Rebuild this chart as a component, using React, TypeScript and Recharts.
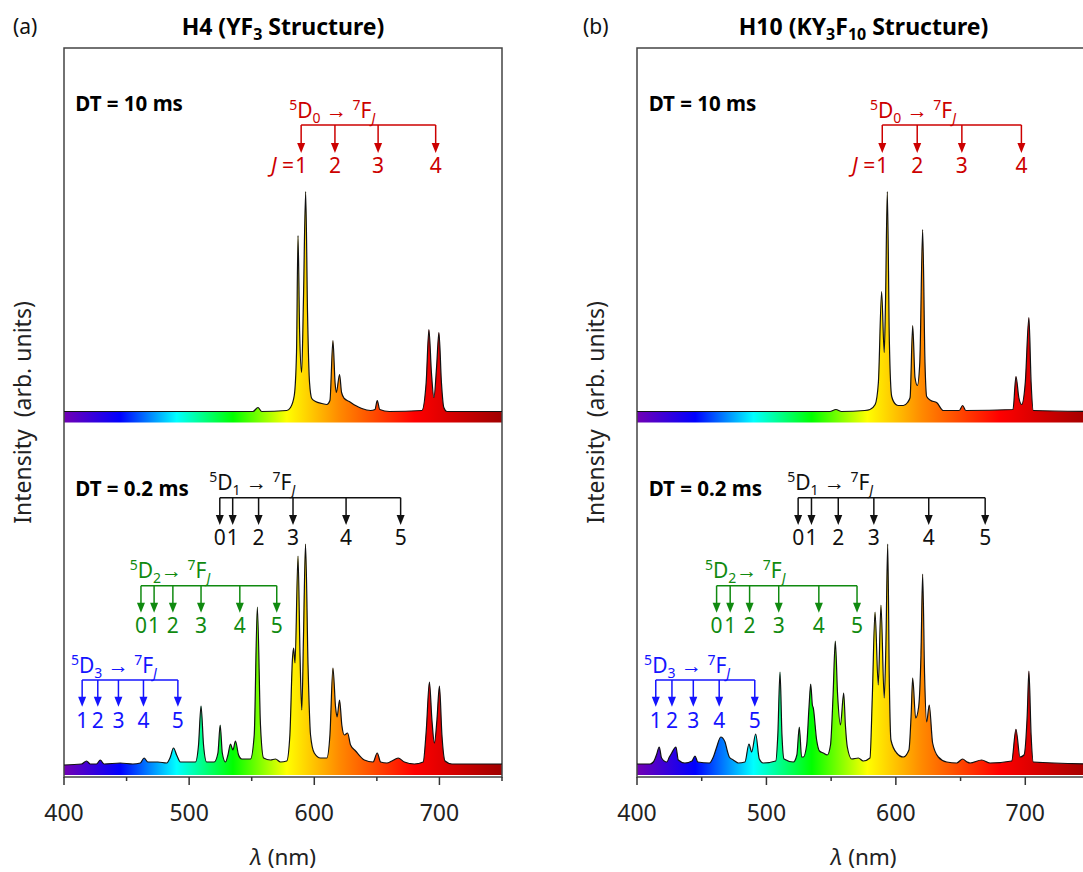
import React from "react";
import {
  ComposedChart,
  Area,
  Line,
  XAxis,
  YAxis,
  ReferenceArea,
  ReferenceLine,
  ReferenceDot,
} from "recharts";

const FONT = '"Noto Sans", "Open Sans", sans-serif';

// x axis ticks (nm); labels only on the hundreds
const X_TICKS = [400, 450, 500, 550, 600, 650, 700, 750];

// y is in plot pixels above the x axis, both spectra live in one frame
const Y_MAX = 729;
const TOP_BASE = 354.5;
const BOTTOM_BASE = 2;

// spectra: [wavelength nm, height above strip bottom]
const A_TOP: [number, number][] = [
  [400, 11], [450, 11], [540, 11], [551, 11], [555, 15], [558, 11], [578, 12],
  [581, 15], [584, 27], [585.8, 70], [587, 187], [588.3, 90], [589.9, 50],
  [591.3, 120], [593.1, 231], [594.6, 110], [596.2, 40], [598, 24], [601, 21],
  [606, 19], [610, 18], [612.5, 22], [614.9, 82], [616.6, 40], [617.6, 30],
  [620.2, 48], [621.8, 30], [624, 24], [628, 21], [633, 17], [638, 14],
  [645, 12], [648.5, 13], [650.3, 22], [652.3, 13], [660, 11], [686, 12],
  [689.4, 40], [691.6, 93], [693.6, 50], [695.6, 25], [697.7, 55], [699.6, 90],
  [701.6, 40], [703.5, 15], [706, 11], [750, 11],
];

const A_BOT: [number, number][] = [
  [400, 10], [414, 11], [418, 14], [421, 11], [426, 11], [429, 15], [432, 11],
  [445, 12], [455, 11], [461, 12], [464, 17], [467, 13], [475, 13], [482, 12],
  [485, 18], [487.5, 27], [490, 20], [493, 13], [505, 13], [507.5, 30],
  [509.5, 69], [511.5, 30], [514, 13], [520, 13], [523, 22], [524.8, 50],
  [526.5, 22], [529, 13], [531, 20], [533, 31], [535, 25], [537, 34],
  [539.5, 20], [542, 16], [549, 16], [552, 40], [554.5, 168], [557, 50],
  [559.5, 17], [565, 15], [569, 16], [573, 13], [578, 14], [580.5, 40],
  [582.5, 115], [583.5, 127], [584.6, 112], [587, 219], [588.6, 120], [590, 65],
  [591.4, 140], [593, 231], [595, 110], [597, 40], [600, 22], [605, 17],
  [610, 17], [612.5, 40], [614.9, 107], [617, 68], [618.2, 58], [620.2, 75],
  [622, 50], [624, 40], [626.6, 42], [629, 30], [633, 24], [640, 15], [647, 13],
  [650.3, 22], [653, 13], [658, 12], [662, 14], [667, 17], [672, 13], [680, 11],
  [687, 13], [689.5, 45], [692, 93], [694, 55], [696, 32], [698, 55], [700, 89],
  [702, 40], [704.5, 14], [710, 11], [750, 11],
];

const B_TOP: [number, number][] = [
  [400, 11], [500, 11], [549, 11], [553.7, 13], [558, 11], [576, 12], [580, 13],
  [584, 18], [586.5, 40], [589, 131], [591, 70], [592, 120], [593.4, 231],
  [595, 80], [596.8, 26], [600, 18], [602, 17], [605.8, 17], [609, 20],
  [611, 25], [613, 97], [614.8, 45], [616.6, 37], [618.5, 60], [620.7, 193],
  [622.5, 60], [623.8, 26], [627, 22], [631.5, 20], [636.7, 12], [649, 12],
  [651.6, 17], [654, 12], [690.5, 13], [692.8, 46], [695, 25], [697.2, 18],
  [700, 40], [702.8, 105], [704.5, 40], [706.2, 12], [750, 11],
];

const B_BOT: [number, number][] = [
  [400, 11], [410, 11], [412.6, 13], [415, 20], [417.2, 28], [419, 17],
  [423, 13], [425, 18], [426.8, 22], [430.1, 28], [431.9, 15], [437, 12],
  [442.5, 14], [444.8, 19], [447, 13], [456, 12], [459, 18], [461.6, 28],
  [464.7, 38], [468, 33], [469.8, 24], [471.3, 18], [474.4, 15], [478.3, 12],
  [483.4, 13], [486.5, 31], [488.6, 23], [491.7, 41], [494.5, 16], [497.6, 12],
  [507.2, 14], [508.8, 40], [510.5, 103], [512, 40], [513.6, 16], [520.8, 13],
  [523.5, 20], [525.4, 48], [527.2, 18], [528.5, 18], [531.1, 30], [533, 70],
  [534.2, 91], [535.5, 70], [536.2, 67], [538.8, 35], [541, 24], [543.9, 22],
  [547, 20], [549.5, 30], [551.5, 80], [553.2, 134], [555, 80], [557.2, 50],
  [559.7, 82], [561, 50], [562.5, 28], [565.9, 16], [571, 17], [574.8, 14],
  [580, 17], [581.8, 78], [583.9, 163], [586.4, 90], [588.5, 170], [591, 77],
  [592.3, 130], [593.7, 231], [595, 90], [596.2, 35], [600.6, 22], [605.7, 18],
  [610.1, 25], [611.8, 60], [613, 97], [615.3, 57], [617.6, 68], [619.4, 120],
  [620.7, 201], [622.2, 100], [623.8, 53], [625.8, 70], [628.4, 32],
  [632.8, 18], [639.3, 13], [647, 12], [651.6, 16], [655, 13], [657.3, 12],
  [666.3, 15], [672.7, 12], [689.5, 14], [692.8, 45.7], [695.9, 18], [699, 20],
  [701.5, 60], [702.8, 104], [704.5, 40], [706.2, 13], [750, 11],
];

// transition markers (nm) and their J labels
const D0_X = [589.5, 616.5, 651, 697];
const D0_LBL = ["1", "2", "3", "4"];
const D1_X = [524.5, 534.8, 555.5, 583, 625.4, 669];
const D1_LBL = ["0", "1", "2", "3", "4", "5"];
const D2_X = [461.5, 472, 487, 509.5, 540.5, 570];
const D2_LBL = ["0", "1", "2", "3", "4", "5"];
const D3_X = [414.5, 427, 443.5, 463.5, 491];
const D3_LBL = ["1", "2", "3", "4", "5"];

// rainbow fill stops (nm, colour)
const RAINBOW: [number, string][] = [
  [400, "#7200b4"], [445, "#0000ff"], [490, "#00ffff"], [535, "#00ff00"],
  [578, "#ffff00"], [620, "#ff8a00"], [680, "#ff0000"], [750, "#a00000"],
];

const RED = "#cc0000";
const GREEN = "#108a10";
const BLUE = "#1414ff";
const BLACK = "#111";

const groups = [
  { id: "d0", xs: D0_X, lbl: D0_LBL, color: RED, br: 652, tip: 624, ly: 604.5, ty: 659, tx: 580, sub: "0", gap: " → ", jEq: true },
  { id: "d1", xs: D1_X, lbl: D1_LBL, color: BLACK, br: 279.3, tip: 252, ly: 232.5, ty: 287, tx: 516, sub: "1", gap: " → ", jEq: false },
  { id: "d2", xs: D2_X, lbl: D2_LBL, color: GREEN, br: 191.3, tip: 164.3, ly: 143.8, ty: 199, tx: 452.5, sub: "2", gap: "→ ", jEq: false },
  { id: "d3", xs: D3_X, lbl: D3_LBL, color: BLUE, br: 97, tip: 70.3, ly: 48.8, ty: 104, tx: 405.5, sub: "3", gap: " → ", jEq: false },
];

const toRows = (spec: [number, number][], base: number) =>
  spec.map(([w, h]) => ({ w, band: [base, base + h], top: base + h }));

function XTick({ x, y, payload }: any) {
  const major = payload.value % 100 === 0;
  return (
    <g>
      <line x1={x} x2={x} y1={y} y2={y + (major ? 8 : 4)} stroke="#333" strokeWidth={1.5} />
      {major && (
        <text x={x} y={y + 44} textAnchor="middle" fontSize={23} fontFamily={FONT} fill="#222">
          {payload.value}
        </text>
      )}
    </g>
  );
}

function renderGroup(g: (typeof groups)[number]) {
  const out: React.ReactNode[] = [];
  out.push(
    <ReferenceLine
      key={g.id + "br"}
      segment={[{ x: g.xs[0], y: g.br }, { x: g.xs[g.xs.length - 1], y: g.br }]}
      stroke={g.color}
      strokeWidth={1.5}
    />
  );
  g.xs.forEach((x, i) => {
    out.push(
      <ReferenceLine
        key={g.id + "s" + i}
        segment={[{ x, y: g.br }, { x, y: g.tip + 8 }]}
        stroke={g.color}
        strokeWidth={1.5}
      />
    );
    out.push(
      <ReferenceDot
        key={g.id + "h" + i}
        x={x}
        y={g.tip}
        r={1}
        shape={(p: any) => (
          <path d={`M${p.cx - 4},${p.cy - 10}L${p.cx + 4},${p.cy - 10}L${p.cx},${p.cy}Z`} fill={g.color} />
        )}
      />
    );
    out.push(
      <ReferenceDot
        key={g.id + "l" + i}
        x={x}
        y={g.ly}
        r={1}
        shape={(p: any) => (
          <g fontFamily={FONT} fontSize={21} fill={g.color}>
            {g.jEq && i === 0 && (
              <text x={p.cx - 7} y={p.cy} textAnchor="end">
                <tspan fontStyle="italic">J</tspan> =
              </text>
            )}
            <text x={p.cx} y={p.cy} textAnchor="middle">{g.lbl[i]}</text>
          </g>
        )}
      />
    );
  });
  out.push(
    <ReferenceDot
      key={g.id + "t"}
      x={g.tx}
      y={g.ty}
      r={1}
      shape={(p: any) => (
        <text x={p.cx} y={p.cy} fontFamily={FONT} fontSize={21} fill={g.color}>
          <tspan fontSize={14} dy={-8}>5</tspan>
          <tspan dy={8}>D</tspan>
          <tspan fontSize={14} dy={5}>{g.sub}</tspan>
          <tspan fontSize={21} dy={-5}>{g.gap}</tspan>
          <tspan fontSize={14} dy={-8}>7</tspan>
          <tspan dy={8}>F</tspan>
          <tspan fontSize={14} dy={5} fontStyle="italic">J</tspan>
        </text>
      )}
    />
  );
  return out;
}

function DtLabel(x: number, y: number, text: string, key: string) {
  return (
    <ReferenceDot
      key={key}
      x={x}
      y={y}
      r={1}
      shape={(p: any) => (
        <text x={p.cx} y={p.cy} fontFamily={FONT} fontSize={20.5} fontWeight="bold" fill="#000">
          {text}
        </text>
      )}
    />
  );
}

function Panel({
  id,
  letter,
  letterDx,
  title,
  top,
  bottom,
  right,
}: {
  id: string;
  letter: string;
  letterDx: number;
  title: React.ReactNode;
  top: [number, number][];
  bottom: [number, number][];
  right: number;
}) {
  const topRows = toRows(top, TOP_BASE);
  const botRows = toRows(bottom, BOTTOM_BASE);
  const gid = "rainbow-" + id;
  return (
    <ComposedChart width={540} height={872} margin={{ top: 0, right, bottom: 0, left: 0 }}>
      <defs>
        <linearGradient id={gid} x1="0" y1="0" x2="1" y2="0">
          {RAINBOW.map(([w, c]) => (
            <stop key={w} offset={(w - 400) / 350} stopColor={c} />
          ))}
        </linearGradient>
      </defs>
      <XAxis
        xAxisId="top"
        orientation="top"
        type="number"
        dataKey="w"
        domain={[400, 750]}
        height={48}
        tick={false}
        tickLine={false}
        axisLine={false}
        label={(p: any) => {
          const vb = p.viewBox;
          return (
            <g fontFamily={FONT}>
              <text x={vb.x - letterDx} y={34} fontSize={21} fill="#111">{letter}</text>
              <text x={vb.x + vb.width / 2} y={35} fontSize={23} textAnchor="middle" fontWeight="bold" fill="#000">
                {title}
              </text>
            </g>
          );
        }}
      />
      <XAxis
        type="number"
        dataKey="w"
        domain={[400, 750]}
        ticks={X_TICKS}
        interval={0}
        height={95}
        tickSize={0}
        tickMargin={0}
        tickLine={false}
        axisLine={false}
        tick={<XTick />}
        label={(p: any) => {
          const vb = p.viewBox;
          return (
            <text x={vb.x + vb.width / 2} y={vb.y + 88} textAnchor="middle" fontFamily={FONT} fontSize={22.5} fill="#222">
              <tspan fontStyle="italic">λ</tspan> (nm)
            </text>
          );
        }}
      />
      <YAxis
        type="number"
        domain={[0, Y_MAX]}
        width={64}
        tick={false}
        tickLine={false}
        axisLine={false}
        label={(p: any) => {
          const vb = p.viewBox;
          const cx = vb.x + 22;
          const cy = vb.y + vb.height / 2;
          return (
            <text
              x={cx}
              y={cy}
              transform={`rotate(-90 ${cx} ${cy})`}
              textAnchor="middle"
              dominantBaseline="central"
              fontFamily={FONT}
              fontSize={23}
              fill="#222"
            >
              {"Intensity\u00a0 (arb. units)"}
            </text>
          );
        }}
      />
      <Area data={topRows} dataKey="band" type="monotone" fill={`url(#${gid})`} fillOpacity={1} stroke="none" isAnimationActive={false} />
      <Area data={botRows} dataKey="band" type="monotone" fill={`url(#${gid})`} fillOpacity={1} stroke="none" isAnimationActive={false} />
      <Line data={topRows} dataKey="top" type="monotone" stroke="#111" strokeWidth={1.2} dot={false} isAnimationActive={false} />
      <Line data={botRows} dataKey="top" type="monotone" stroke="#111" strokeWidth={1.2} dot={false} isAnimationActive={false} />
      <ReferenceArea x1={400} x2={750} y1={0} y2={Y_MAX} fill="none" stroke="#444" strokeWidth={1.5} />
      {DtLabel(409, 666, "DT = 10 ms", "dt10")}
      {DtLabel(409, 281, "DT = 0.2 ms", "dt02")}
      {groups.map((g) => renderGroup(g))}
    </ComposedChart>
  );
}

export default function App() {
  return (
    <div
      style={{
        position: "absolute",
        left: 0,
        top: 0,
        width: 1083,
        height: 872,
        overflow: "hidden",
        background: "#fff",
      }}
    >
      <div style={{ position: "absolute", left: 0, top: 0 }}>
        <Panel
          id="a"
          letter="(a)"
          letterDx={51}
          right={38}
          top={A_TOP}
          bottom={A_BOT}
          title={
            <>
              H4 (YF<tspan fontSize={16} dy={5}>3</tspan>
              <tspan dy={-5}> Structure)</tspan>
            </>
          }
        />
      </div>
      <div style={{ position: "absolute", left: 573, top: 0 }}>
        <Panel
          id="b"
          letter="(b)"
          letterDx={54}
          right={23}
          top={B_TOP}
          bottom={B_BOT}
          title={
            <>
              H10 (KY<tspan fontSize={16} dy={5}>3</tspan>
              <tspan dy={-5}>F</tspan>
              <tspan fontSize={16} dy={5}>10</tspan>
              <tspan dy={-5}> Structure)</tspan>
            </>
          }
        />
      </div>
    </div>
  );
}
